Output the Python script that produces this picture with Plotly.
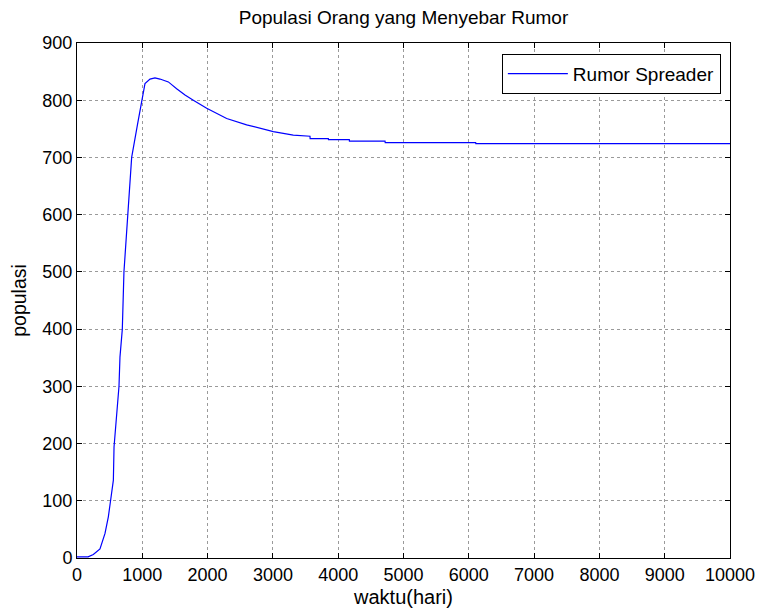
import plotly.graph_objects as go

waktu = [0, 170, 250, 352, 429, 480, 515, 557, 567, 607, 643, 658, 694, 719, 761, 801, 837,
         924, 990, 1041, 1118, 1194, 1271, 1399, 1526, 1654, 1781, 1986, 2292, 2598, 3006,
         3312, 3568, 3570, 3849, 3851, 4170, 4172, 4717, 4720, 6105, 6108, 10000]
populasi = [2, 2, 6, 16, 43, 72, 101, 136, 194, 244, 300, 351, 400, 500, 573, 630, 700,
            756, 800, 829, 837, 839, 837, 832, 820, 809, 800, 786, 768, 757, 745,
            739, 737, 733, 733, 731, 731, 728.5, 728.5, 726, 726, 724, 724]

x_ticks = list(range(0, 10001, 1000))
x_labels = [str(v) for v in x_ticks]
y_ticks = list(range(0, 901, 100))
y_labels = [str(v) for v in y_ticks]

FONT = "Liberation Sans, Arial, Helvetica, sans-serif"

fig = go.Figure()
fig.add_trace(go.Scatter(x=waktu, y=populasi, mode="lines", name="Rumor Spreader",
                         line=dict(color="#0000ff", width=1.2)))

axis_common = dict(showline=True, linecolor="black", linewidth=1, mirror="ticks",
                   ticks="inside", ticklen=5, tickcolor="black", automargin=False,
                   showgrid=True, gridcolor="#9a9a9a", griddash="dot", gridwidth=1,
                   zeroline=False, tickfont=dict(family=FONT, size=18, color="black"))

fig.update_layout(
    width=761, height=611,
    margin=dict(l=77, r=31, t=43, b=53),
    paper_bgcolor="white", plot_bgcolor="white",
    font=dict(family=FONT, size=18, color="black"),
    title=dict(text="Populasi Orang yang Menyebar Rumor", x=0.5, xref="paper",
               xanchor="center", y=1 - 17 / 611, yref="container", yanchor="middle",
               font=dict(family=FONT, size=19)),
    xaxis=dict(range=[0, 10000], tickvals=x_ticks, ticktext=x_labels,
               title=dict(text="waktu(hari)", standoff=6, font=dict(size=20)), **axis_common),
    yaxis=dict(range=[0, 900], tickvals=y_ticks, ticktext=y_labels,
               title=dict(text="populasi", standoff=10, font=dict(size=19.5)), **axis_common),
    legend=dict(x=0.986, xanchor="right", y=0.979, yanchor="top",
                bordercolor="black", borderwidth=1, bgcolor="white",
                itemwidth=60, font=dict(family=FONT, size=19)),
    showlegend=True,
)

fig.write_html("out.html")
